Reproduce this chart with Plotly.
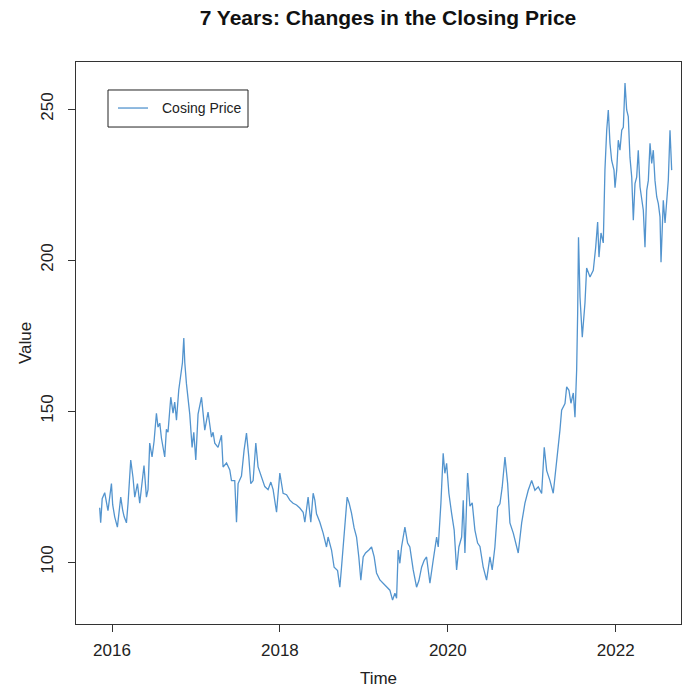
import plotly.graph_objects as go

# Closing price series, time in decimal years
time_years = [
    2015.853, 2015.865, 2015.883, 2015.913, 2015.952, 2015.993, 2016.008, 2016.032,
    2016.064, 2016.080, 2016.104, 2016.128, 2016.145, 2016.172, 2016.191, 2016.223,
    2016.250, 2016.271, 2016.303, 2016.330, 2016.350, 2016.381, 2016.410, 2016.429,
    2016.449, 2016.477, 2016.501, 2016.529, 2016.548, 2016.569, 2016.589, 2016.628,
    2016.648, 2016.667, 2016.700, 2016.727, 2016.747, 2016.768, 2016.795, 2016.819,
    2016.839, 2016.855, 2016.867, 2016.887, 2016.906, 2016.926, 2016.954, 2016.974,
    2016.998, 2017.025, 2017.066,
    2017.105, 2017.144, 2017.185, 2017.204, 2017.224, 2017.263, 2017.304, 2017.323,
    2017.364, 2017.403, 2017.423, 2017.462, 2017.483, 2017.502, 2017.542, 2017.573,
    2017.602, 2017.629, 2017.653, 2017.681, 2017.713, 2017.740, 2017.781, 2017.820,
    2017.859, 2017.892, 2017.919, 2017.960, 2017.999, 2018.038, 2018.079, 2018.118,
    2018.157, 2018.198, 2018.237, 2018.277,
    2018.297, 2018.336, 2018.368, 2018.396, 2018.416, 2018.436, 2018.476, 2018.515,
    2018.555, 2018.574, 2018.615, 2018.646, 2018.687, 2018.714, 2018.734, 2018.774,
    2018.801, 2018.825, 2018.853, 2018.884, 2018.913, 2018.940, 2018.964, 2018.992,
    2019.020, 2019.060, 2019.092, 2019.123, 2019.151, 2019.191, 2019.230, 2019.271,
    2019.310, 2019.342, 2019.370, 2019.390,
    2019.409, 2019.429, 2019.449, 2019.489, 2019.521, 2019.548, 2019.588, 2019.628,
    2019.656, 2019.688, 2019.719, 2019.747, 2019.787, 2019.826, 2019.867, 2019.886,
    2019.918, 2019.945, 2019.965, 2019.986, 2020.013, 2020.045, 2020.076, 2020.105,
    2020.132, 2020.165, 2020.184, 2020.204, 2020.236, 2020.263, 2020.291, 2020.323,
    2020.355, 2020.383, 2020.422, 2020.462, 2020.502, 2020.529, 2020.561, 2020.594,
    2020.621, 2020.648, 2020.681,
    2020.713, 2020.740, 2020.780, 2020.820, 2020.839, 2020.880, 2020.919, 2020.958,
    2020.999, 2021.038, 2021.078, 2021.118, 2021.149, 2021.178, 2021.217, 2021.256,
    2021.297, 2021.336, 2021.356, 2021.396, 2021.416, 2021.443, 2021.467, 2021.495,
    2021.515, 2021.535, 2021.547, 2021.557, 2021.575, 2021.602, 2021.634,
    2021.654, 2021.694, 2021.733, 2021.762, 2021.785, 2021.801, 2021.825, 2021.852,
    2021.872, 2021.893, 2021.912, 2021.932, 2021.952, 2021.980, 2021.992, 2022.012,
    2022.031, 2022.051, 2022.072, 2022.091, 2022.111, 2022.131, 2022.150, 2022.170,
    2022.191, 2022.210, 2022.230, 2022.250, 2022.269, 2022.290, 2022.310, 2022.329,
    2022.349, 2022.370, 2022.389, 2022.409, 2022.429, 2022.448, 2022.468, 2022.489,
    2022.508, 2022.528, 2022.540, 2022.555, 2022.567, 2022.588, 2022.608, 2022.627,
    2022.647, 2022.667,
]

closing_price = [
    118.0, 113.0, 121.0, 123.0, 117.0, 126.0, 119.0, 115.0,
    111.6, 116.0, 121.5, 117.0, 115.0, 113.0, 119.5, 133.8,
    128.0, 121.5, 126.0, 119.5, 125.0, 132.0, 121.5, 124.0,
    139.4, 134.8, 140.0, 149.3, 144.7, 146.0, 141.0, 134.8,
    144.0, 143.0, 154.6, 149.3, 153.0, 147.0, 157.0, 162.6,
    166.0, 174.2, 166.0, 159.0, 155.0, 149.0, 138.0, 143.0,
    133.8, 149.0, 154.6,
    143.7, 149.7, 141.4, 143.0, 139.4, 138.0, 142.0, 131.5,
    132.8, 130.5, 127.0, 127.0, 113.2, 126.0, 128.5, 137.0,
    142.7, 135.0, 126.0, 127.0, 139.4, 131.5, 128.0, 125.0,
    124.0, 126.5, 124.0, 116.5, 129.5, 122.8, 122.3, 120.5,
    119.5, 118.9, 117.9, 116.5,
    113.2, 121.5, 113.2, 122.8, 120.5, 116.0, 113.2, 109.6,
    105.0, 108.3, 104.0, 98.3, 97.2, 91.7, 98.3, 113.9,
    121.5, 119.5, 116.2, 111.3, 108.3, 101.7, 94.0, 101.7,
    103.0, 104.0, 105.0, 101.7, 96.4, 94.1, 93.0, 91.8,
    90.7, 87.4, 89.7, 88.0,
    104.0, 99.6, 105.0, 111.6, 106.3, 105.0, 97.4, 91.7,
    93.9, 98.3, 100.6, 101.7, 93.0, 100.6, 108.3, 105.0,
    119.5, 136.0, 129.4, 132.7, 122.8, 116.2, 110.6, 97.4,
    105.0, 108.3, 120.5, 103.0, 129.5, 118.5, 119.6, 110.6,
    106.3, 105.2, 98.3, 94.0, 101.7, 97.4, 105.0, 118.2,
    119.3, 124.8, 134.8,
    126.0, 113.0, 109.6, 105.0, 103.0, 113.0, 119.5, 123.8,
    127.0, 123.8, 124.9, 122.7, 138.0, 130.3, 127.0, 122.8,
    132.8, 143.7, 150.3, 152.5, 158.0, 156.9, 152.6, 156.0,
    148.0, 163.6, 182.5, 207.6, 187.7, 174.5, 185.8,
    197.4, 194.4, 196.6, 204.3, 212.6, 201.0, 209.0, 205.7,
    229.8, 243.0, 249.7, 238.7, 233.0, 229.8, 224.0, 229.8,
    239.7, 236.4, 243.0, 244.0, 258.6, 249.7, 247.5, 234.0,
    227.5, 213.2, 225.3, 227.5, 236.4, 224.2, 220.9, 216.5,
    204.3, 223.1, 226.4, 238.7, 232.0, 236.4, 226.4, 220.9,
    218.7, 214.3, 199.3, 215.4, 219.8, 212.3, 218.7, 226.5,
    243.0, 229.8,
]

x_ticks = [2016, 2018, 2020, 2022]
y_ticks = [100, 150, 200, 250]

LINE_COLOR = "#5394CE"
TEXT_COLOR = "#222222"
FONT = "Liberation Sans, Arial, sans-serif"

fig = go.Figure()
fig.add_trace(go.Scatter(
    x=time_years, y=closing_price, mode="lines",
    line=dict(color=LINE_COLOR, width=1.3),
    name="Cosing Price", showlegend=False,
))

axis_common = dict(
    showline=True, mirror=True, linecolor="#333333", linewidth=1,
    ticks="outside", ticklen=7, tickcolor="#333333", tickwidth=1,
    showgrid=False, zeroline=False,
    tickfont=dict(family=FONT, size=17, color=TEXT_COLOR),
)

fig.update_layout(
    width=685, height=688,
    margin=dict(l=76, r=4, t=62, b=64),
    paper_bgcolor="white", plot_bgcolor="white",
    font=dict(family=FONT, color=TEXT_COLOR),
    title=dict(
        text="<b>7 Years: Changes in the Closing Price</b>",
        x=388 / 685, xanchor="center", xref="container",
        y=(688 - 18) / 688, yanchor="middle", yref="container",
        font=dict(family=FONT, size=21, color="#111111"),
    ),
    xaxis=dict(
        range=[2015.571, 2022.778], tickvals=x_ticks,
        ticktext=[str(v) for v in x_ticks],
        ticklabelstandoff=4,
        title=dict(text="Time", standoff=13,
                   font=dict(family=FONT, size=17, color=TEXT_COLOR)),
        **axis_common,
    ),
    yaxis=dict(
        range=[79.5, 265.6], tickvals=y_ticks,
        ticktext=[str(v) for v in y_ticks], tickangle=-90,
        ticklabelstandoff=8,
        title=dict(text="Value", standoff=2,
                   font=dict(family=FONT, size=17, color=TEXT_COLOR)),
        **axis_common,
    ),
)

# Legend box drawn in the top-left corner of the plotting region
fig.add_shape(type="rect", xref="paper", yref="paper",
              x0=0.0529, x1=0.2843, y0=0.8843, y1=0.9502,
              line=dict(color="#222222", width=1), fillcolor="white")
fig.add_shape(type="line", xref="paper", yref="paper",
              x0=0.0694, x1=0.119, y0=0.9181, y1=0.9181,
              line=dict(color=LINE_COLOR, width=1.3))
fig.add_annotation(text="Cosing Price", xref="paper", yref="paper",
                   x=0.1388, y=0.9181, xanchor="left", yanchor="middle",
                   showarrow=False,
                   font=dict(family=FONT, size=14, color=TEXT_COLOR))

fig.write_html("out.html")
